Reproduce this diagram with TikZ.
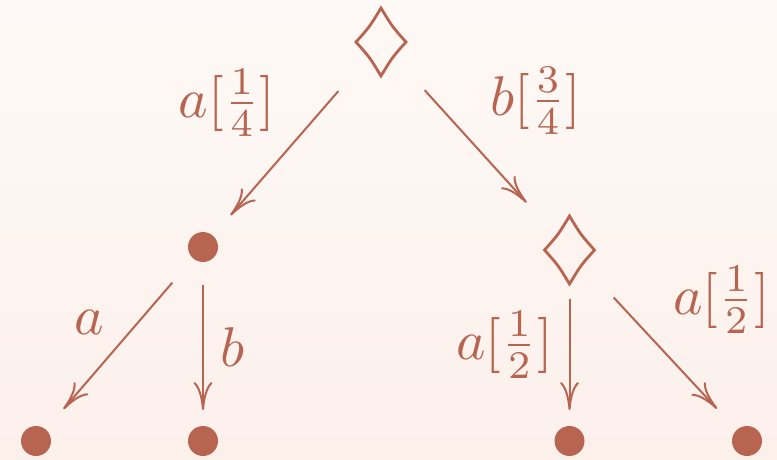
\documentclass[tikz,border=0pt]{standalone}
\usetikzlibrary{arrows.meta}
\definecolor{ink}{RGB}{183,100,80}
\definecolor{bgtop}{RGB}{254,249,246}
\definecolor{bgbot}{RGB}{252,240,235}
\tikzset{
  arr/.style={draw=ink, line width=2pt, -{Computer Modern Rightarrow[length=28pt,width=19pt,line width=2pt]}},
  dot/.style={circle, fill=ink, inner sep=0pt, minimum size=30pt},
  lbl/.style={text=ink, inner sep=0pt, anchor=base, scale=5.6, transform shape},
  pics/diam/.style={code={\draw[ink, line width=2.8pt, line join=miter]
    (0,-34) .. controls (11.3,-15.3) .. (25,0) .. controls (11.3,15.3) .. (0,34)
    .. controls (-11.3,15.3) .. (-25,0) .. controls (-11.3,-15.3) .. cycle;}}
}
\begin{document}
\begin{tikzpicture}[x=1pt,y=-1pt]
\shade[top color=bgtop, bottom color=bgbot] (0,0) rectangle (777,459);
\useasboundingbox (0,0) rectangle (777,459);
% vertices
\coordinate (d1) at (381,42);
\coordinate (d2) at (569.5,250);
\pic at (d1) {diam};
\pic at (d2) {diam};
\node[dot] (n1) at (203,247) {};
\node[dot] (b1) at (36,441) {};
\node[dot] (b2) at (203,441) {};
\node[dot] (b3) at (569.5,441) {};
\node[dot] (b4) at (747,441) {};
% edges
\draw[arr, shorten <=65pt, shorten >=42pt] (d1.center) -- (n1.center);
\draw[arr, shorten <=65pt, shorten >=64pt] (d1) -- (d2);
\draw[arr, shorten <=47pt, shorten >=42pt] (n1.center) -- (b1.center);
\draw[arr, shorten <=38pt, shorten >=31pt] (n1.center) -- (b2.center);
\draw[arr, shorten <=49pt, shorten >=31pt] (d2) -- (b3.center);
\draw[arr, shorten <=65pt, shorten >=44pt] (d2) -- (b4.center);
% labels
\node[lbl] (l1) at (227,117) {$a[\frac{1}{4}]$};
\node[lbl] (l2) at (536,115) {$b[\frac{3}{4}]$};
\node[lbl] (l3) at (89,334) {$a$};
\node[lbl] (l4) at (233,366) {$b$};
\node[lbl] (l5) at (504.5,359) {$a[\frac{1}{2}]$};
\node[lbl] (l6) at (721.5,314) {$a[\frac{1}{2}]$};
\end{tikzpicture}
\end{document}
